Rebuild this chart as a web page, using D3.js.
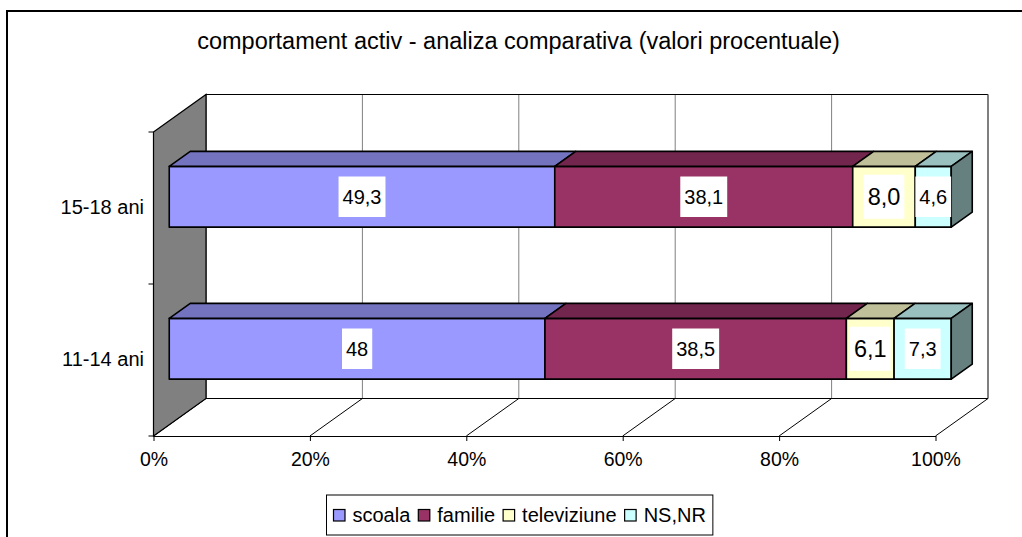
<!DOCTYPE html>
<html>
<head>
<meta charset="utf-8">
<script src="https://cdn.jsdelivr.net/npm/d3@7"></script>
<style>
  body { margin: 0; background: #fff; }
  svg text { font-family: Arial, "Liberation Sans", sans-serif; fill: #000; }
</style>
</head>
<body>
<div id="chart"></div>
<script>
// data (percent values)
const categories = ["15-18 ani", "11-14 ani"];
const seriesNames = ["scoala", "familie", "televiziune", "NS,NR"];
const scoala = [49.3, 48];
const familie = [38.1, 38.5];
const televiziune = [8.0, 6.1];
const nsnr = [4.6, 7.3];
const scoalaLbl = ["49,3", "48"];
const familieLbl = ["38,1", "38,5"];
const televiziuneLbl = ["8,0", "6,1"];
const nsnrLbl = ["4,6", "7,3"];
const xTicks = [0, 0.2, 0.4, 0.6, 0.8, 1];

const CONFIG = {
  width: 1022,
  height: 537,
  colors: ["#9999FF", "#993366", "#FFFFCC", "#CCFFFF"],
  labelSize: [20, 20, 23.5, 20],
  depth: { dx: 52.5, dy: -37.5 },
  zFront: 0.3,
  zBack: 0.7
};

const rows = categories.map((c, i) => ({
  cat: c,
  scoala: scoala[i],
  familie: familie[i],
  televiziune: televiziune[i],
  "NS,NR": nsnr[i]
}));
const labels = [scoalaLbl, familieLbl, televiziuneLbl, nsnrLbl];

const stacked = d3.stack()
  .keys(seriesNames)
  .offset(d3.stackOffsetExpand)(rows);

const x = d3.scaleLinear().domain([0, 1]).range([153.5, 935.5]);
const y = d3.scaleBand().domain(categories).range([132, 436])
  .paddingInner(0.6).paddingOuter(0.3);

const DX = CONFIG.depth.dx, DY = CONFIG.depth.dy;
const P = (v, yy, z) => [x(v) + z * DX, yy + z * DY];
const pts = (arr) => arr.map(p => p.join(",")).join(" ");
function shade(c, k) {
  const r = d3.rgb(c);
  return d3.rgb(r.r * k, r.g * k, r.b * k).formatHex();
}

const svg = d3.select("#chart").append("svg")
  .attr("width", CONFIG.width)
  .attr("height", CONFIG.height);

// outer frame
svg.append("rect")
  .attr("x", 7).attr("y", 11)
  .attr("width", 1040).attr("height", 560)
  .attr("fill", "#fff")
  .attr("stroke", "#000")
  .attr("stroke-width", 2);

// title
svg.append("text")
  .attr("x", 518.5).attr("y", 48.5)
  .attr("text-anchor", "middle")
  .style("font-size", "23.5px")
  .text("comportament activ - analiza comparativa (valori procentuale)");

const y0 = y.range()[0], y1 = y.range()[1];

// back wall gridlines
svg.append("g").selectAll("line")
  .data(xTicks.slice(1, -1))
  .enter().append("line")
  .attr("x1", d => x(d) + DX).attr("x2", d => x(d) + DX)
  .attr("y1", y0 + DY).attr("y2", y1 + DY)
  .attr("stroke", "#808080").attr("stroke-width", 1);

// back wall frame
svg.append("polyline")
  .attr("points", pts([P(0, y1, 1), P(0, y0, 1), P(1, y0, 1), P(1, y1, 1)]))
  .attr("fill", "none").attr("stroke", "#000").attr("stroke-width", 1);
svg.append("line")
  .attr("x1", x(1) + DX).attr("x2", x(1) + DX)
  .attr("y1", y0 + DY).attr("y2", y1 + DY)
  .attr("stroke", "#808080");

// floor
svg.append("g").selectAll("line")
  .data(xTicks)
  .enter().append("line")
  .attr("x1", d => x(d)).attr("y1", y1)
  .attr("x2", d => x(d) + DX).attr("y2", y1 + DY)
  .attr("stroke", "#000").attr("stroke-width", 1);
svg.append("line")
  .attr("x1", x(0) + DX).attr("x2", x(1) + DX)
  .attr("y1", y1 + DY).attr("y2", y1 + DY)
  .attr("stroke", "#000");

// left wall
svg.append("polygon")
  .attr("points", pts([P(0, y0, 0), P(0, y0, 1), P(0, y1, 1), P(0, y1, 0)]))
  .attr("fill", "#808080").attr("stroke", "#000").attr("stroke-width", 1.2);

// x axis (front floor edge)
const xAxis = svg.append("g")
  .attr("transform", "translate(0," + y1 + ")")
  .call(d3.axisBottom(x).tickValues(xTicks).tickFormat(d3.format(".0%"))
    .tickSize(5).tickPadding(11).tickSizeOuter(0));
xAxis.select(".domain").attr("stroke", "#000").attr("stroke-width", 1.2);
xAxis.selectAll("line").attr("stroke", "#000");
xAxis.selectAll("text")
  .style("font-size", "19.5px")
  .style("font-family", "Arial, 'Liberation Sans', sans-serif");

// category axis
const yAxis = svg.append("g")
  .attr("transform", "translate(" + x(0) + ",0)")
  .call(d3.axisLeft(y).tickSize(0).tickPadding(9.5));
yAxis.select(".domain").remove();
yAxis.selectAll("text")
  .style("font-size", "20px")
  .style("font-family", "Arial, 'Liberation Sans', sans-serif");

const bounds = [y0, y0 + y.step(), y1];
svg.append("g").selectAll("line")
  .data(bounds)
  .enter().append("line")
  .attr("x1", x(0) - 5).attr("x2", x(0))
  .attr("y1", d => d).attr("y2", d => d)
  .attr("stroke", "#000");

// bars
const zf = CONFIG.zFront, zb = CONFIG.zBack;
const bw = y.bandwidth();
const barsG = svg.append("g").attr("id", "bars");

stacked.forEach((s, si) => {
  const col = CONFIG.colors[si];
  s.forEach((d, i) => {
    const yT = y(d.data.cat), yB = yT + bw;
    const g = barsG.append("g");
    g.append("polygon")
      .attr("points", pts([P(d[0], yT, zf), P(d[1], yT, zf), P(d[1], yB, zf), P(d[0], yB, zf)]))
      .attr("fill", col).attr("stroke", "#000").attr("stroke-width", 1.6)
      .attr("stroke-linejoin", "round");
    g.append("polygon")
      .attr("points", pts([P(d[0], yT, zf), P(d[1], yT, zf), P(d[1], yT, zb), P(d[0], yT, zb)]))
      .attr("fill", shade(col, 0.75)).attr("stroke", "#000").attr("stroke-width", 1.6)
      .attr("stroke-linejoin", "round");
    if (si === stacked.length - 1) {
      g.append("polygon")
        .attr("points", pts([P(d[1], yT, zf), P(d[1], yT, zb), P(d[1], yB, zb), P(d[1], yB, zf)]))
        .attr("fill", shade(col, 0.5)).attr("stroke", "#000").attr("stroke-width", 1.6)
        .attr("stroke-linejoin", "round");
    }
  });
});

// data labels
stacked.forEach((s, si) => {
  const fs = CONFIG.labelSize[si];
  s.forEach((d, i) => {
    const yT = y(d.data.cat);
    const cx = (P(d[0], yT, zf)[0] + P(d[1], yT, zf)[0]) / 2;
    const cy = yT + bw / 2 + zf * DY;
    const g = barsG.append("g");
    const t = g.append("text")
      .attr("x", cx).attr("y", cy)
      .attr("dy", "0.35em")
      .attr("text-anchor", "middle")
      .style("font-size", fs + "px")
      .text(labels[si][i]);
    const w = t.node().getComputedTextLength() + 8;
    const h = fs + 20.5;
    g.insert("rect", "text")
      .attr("x", cx - w / 2).attr("y", cy - h / 2)
      .attr("width", w).attr("height", h)
      .attr("fill", "#fff");
  });
});

// legend
const legend = svg.append("g").attr("id", "legend");
const legBox = legend.append("rect")
  .attr("y", 495).attr("height", 40)
  .attr("fill", "#fff").attr("stroke", "#000").attr("stroke-width", 1);
let lx = 0;
const items = legend.append("g");
seriesNames.forEach((n, si) => {
  items.append("rect")
    .attr("x", lx).attr("y", 509.5)
    .attr("width", 11.5).attr("height", 11.5)
    .attr("fill", CONFIG.colors[si])
    .attr("stroke", "#000").attr("stroke-width", 1.2);
  const t = items.append("text")
    .attr("x", lx + 19).attr("y", 522)
    .style("font-size", "20px")
    .text(n);
  lx += 19 + t.node().getComputedTextLength() + 8;
});
const legW = lx - 8;
items.attr("transform", "translate(" + (333.5) + ",0)");
legBox.attr("x", 326.5).attr("width", legW + 14);
</script>
</body>
</html>
